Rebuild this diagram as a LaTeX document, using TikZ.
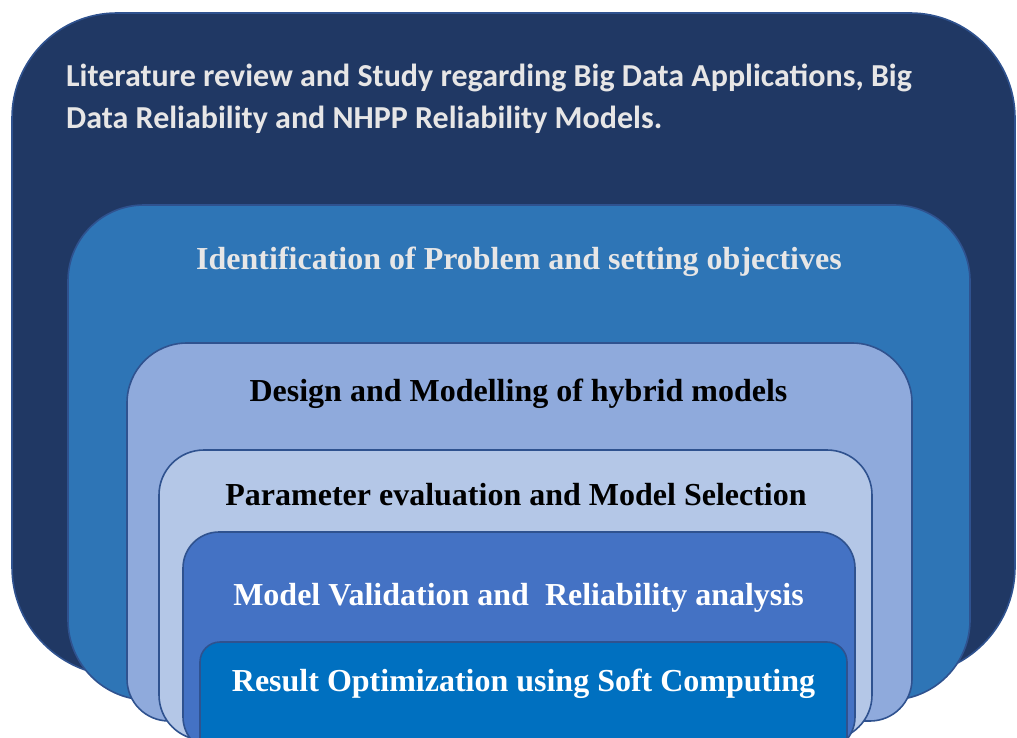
\documentclass[tikz,border=0pt]{standalone}
\usepackage{fontspec}
\setmainfont{Liberation Serif}
\newfontfamily\calibri{Carlito}
\definecolor{navy}{HTML}{203864}
\definecolor{midblue}{HTML}{2E75B6}
\definecolor{paleblue}{HTML}{8FAADC}
\definecolor{paleblueB}{HTML}{B4C7E7}
\definecolor{royal}{HTML}{4472C4}
\definecolor{deepblue}{HTML}{0070C0}
\definecolor{rimblue}{HTML}{2F528F}
\definecolor{softgray}{HTML}{E7E6E6}
% stage panel: fill colour, left, top, right, bottom, top radius, bottom radius
\newcommand\stagepanel[7]{%
  \filldraw[panel, fill=#1] (#2,{#3+#6}) arc[start angle=180, end angle=270, radius=#6]
    -- ({#4-#6},#3) arc[start angle=270, end angle=360, radius=#6]
    -- (#4,{#5-#7}) arc[start angle=0, end angle=90, radius=#7]
    -- ({#2+#7},#5) arc[start angle=90, end angle=180, radius=#7] -- cycle;}
\begin{document}
\begin{tikzpicture}[x=1pt, y=-1pt,
  panel/.style={draw=rimblue, line width=1.6pt},
  stagetext/.style={inner sep=0pt, anchor=base, font=\bfseries\fontsize{32}{38}\selectfont}]
\useasboundingbox (0,0) rectangle (1017,738);
\clip (0,0) rectangle (1017,738);
\stagepanel{navy}{12}{13}{1015}{676}{105}{109}
\stagepanel{midblue}{68}{205}{970}{700}{76}{80}
\stagepanel{paleblue}{127}{343}{912}{721}{60}{42}
\stagepanel{paleblueB}{159}{450}{872}{740}{45}{45}
\stagepanel{royal}{183}{532}{855}{752}{36}{35}
\stagepanel{deepblue}{200}{642}{847}{780}{20}{20}
% two-line heading; its base anchor sits on the second line
\node[inner sep=0pt, anchor=base west, align=left, text=softgray,
  font=\calibri\bfseries\fontsize{32}{42}\selectfont] (lit) at (66,129)
  {Literature review and Study regarding Big Data Applications, Big\\Data Reliability and NHPP Reliability Models.};
\node[stagetext, text=softgray] (ident) at (519,269) {Identification of Problem and setting objectives};
\node[stagetext, text=black] (design) at (518.5,401) {Design and Modelling of hybrid models};
\node[stagetext, text=black] (param) at (516,505) {Parameter evaluation and Model Selection};
\node[stagetext, text=white] (valid) at (518.5,605) {Model Validation and\ \ Reliability analysis};
\node[stagetext, text=white] (optim) at (523.5,691) {Result Optimization using Soft Computing};
\end{tikzpicture}
\end{document}
